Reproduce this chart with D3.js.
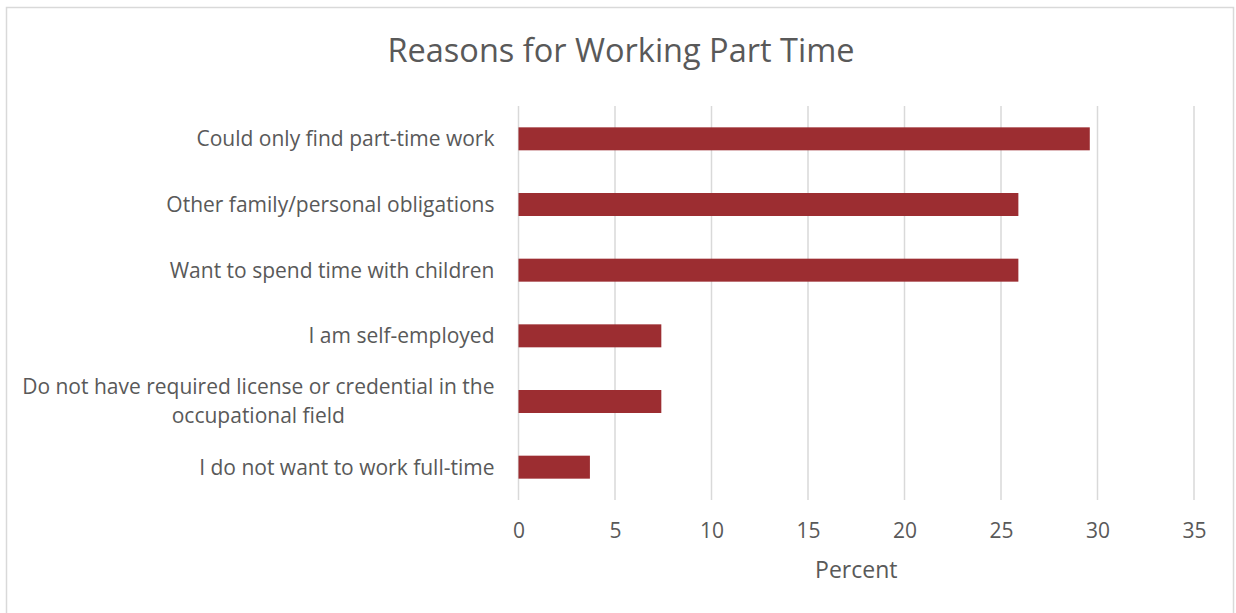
<!DOCTYPE html>
<html>
<head>
<meta charset="utf-8">
<script src="https://cdn.jsdelivr.net/npm/d3@7"></script>
<style>
  html, body { margin: 0; padding: 0; background: #fff; }
  svg { display: block; font-family: "Open Sans", "Noto Sans", sans-serif; }
</style>
</head>
<body>
<svg id="chart" width="1236" height="613"></svg>
<script>
// Share of respondents by main reason for working part time
const categories = [
  "Could only find part-time work",
  "Other family/personal obligations",
  "Want to spend time with children",
  "I am self-employed",
  "Do not have required license or credential in the occupational field",
  "I do not want to work full-time"
];
const values = [29.6, 25.9, 25.9, 7.4, 7.4, 3.7];
const xTicks = [0, 5, 10, 15, 20, 25, 30, 35];
const chartTitle = "Reasons for Working Part Time";
const xTitle = "Percent";

// Category labels that wrap onto two lines
const labelLines = {
  "Do not have required license or credential in the occupational field":
    ["Do not have required license or credential in the", "occupational field"]
};

const W = 1236, H = 613;
const margin = { top: 106, right: 42, bottom: 113, left: 518.5 };
const textColor = "#595959";
const gridColor = "#d9d9d9";
const barColor = "#9c2d31";
const labelSize = 21;

const svg = d3.select("#chart");

// Outer chart frame
svg.append("rect")
  .attr("x", 6.5).attr("y", 7.5)
  .attr("width", 1227).attr("height", 620)
  .attr("fill", "#fff")
  .attr("stroke", gridColor)
  .attr("stroke-width", 1.5);

const x = d3.scaleLinear()
  .domain([0, 35])
  .range([margin.left, W - margin.right]);

const y = d3.scaleBand()
  .domain(categories)
  .range([margin.top, H - margin.bottom])
  .paddingInner(0.65)
  .paddingOuter(0.325);

// Vertical gridlines
svg.append("g")
  .selectAll("line")
  .data(xTicks)
  .join("line")
  .attr("x1", d => x(d)).attr("x2", d => x(d))
  .attr("y1", margin.top).attr("y2", H - margin.bottom)
  .attr("stroke", gridColor)
  .attr("stroke-width", 1.5);

// Bars
svg.append("g")
  .selectAll("rect")
  .data(categories)
  .join("rect")
  .attr("x", x(0))
  .attr("y", d => y(d))
  .attr("width", (d, i) => x(values[i]) - x(0))
  .attr("height", y.bandwidth())
  .attr("fill", barColor);

// X axis tick labels
const xAxis = d3.axisBottom(x)
  .tickValues(xTicks)
  .tickSize(0)
  .tickPadding(0)
  .tickFormat(d3.format("d"));

const xg = svg.append("g")
  .attr("transform", `translate(0,${H - margin.bottom})`)
  .call(xAxis);
xg.select(".domain").remove();
xg.selectAll("text")
  .attr("y", 38)
  .attr("dy", 0)
  .attr("fill", textColor)
  .attr("font-size", labelSize)
  .attr("font-family", "'Open Sans', sans-serif");

// Y axis category labels
const yAxis = d3.axisLeft(y).tickSize(0).tickPadding(0).tickFormat("");
const yg = svg.append("g")
  .attr("transform", `translate(${margin.left},0)`)
  .call(yAxis);
yg.select(".domain").remove();

const labelRight = margin.left - 24;
yg.selectAll(".tick").each(function (d) {
  const g = d3.select(this);
  const lines = labelLines[d] || [d];
  const lh = 29;
  const t = g.append("text")
    .attr("fill", textColor)
    .attr("font-size", labelSize)
    .attr("font-family", "'Open Sans', sans-serif");
  if (lines.length === 1) {
    t.attr("x", labelRight - margin.left)
      .attr("text-anchor", "end")
      .attr("dy", "0.35em")
      .text(lines[0]);
  } else {
    // Wrapped label: lines centred within the widest line, right-aligned as a block
    const spans = lines.map((ln, i) => t.append("tspan").text(ln));
    t.attr("text-anchor", "middle");
    const widths = spans.map(s => s.node().getComputedTextLength());
    const maxW = Math.max(...widths);
    const cx = labelRight - margin.left - maxW / 2;
    spans.forEach((s, i) => {
      s.attr("x", cx)
       .attr("y", (i - (lines.length - 1) / 2) * lh)
       .attr("dy", "0.35em");
    });
  }
});

// Chart title
svg.append("text")
  .attr("x", W / 2 + 3)
  .attr("y", 62)
  .attr("text-anchor", "middle")
  .attr("fill", textColor)
  .attr("font-size", 32.5)
  .text(chartTitle);

// X axis title
svg.append("text")
  .attr("x", (x.range()[0] + x.range()[1]) / 2)
  .attr("y", 578)
  .attr("text-anchor", "middle")
  .attr("fill", textColor)
  .attr("font-size", 23)
  .text(xTitle);
</script>
</body>
</html>
